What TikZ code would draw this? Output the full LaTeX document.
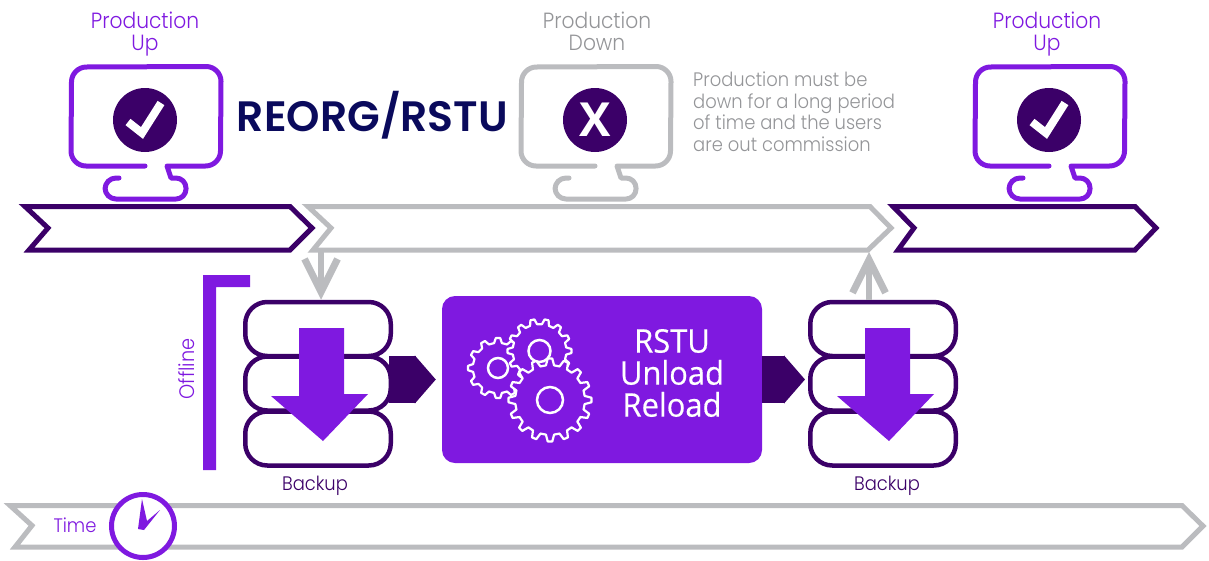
\documentclass[tikz,border=0pt]{standalone}
\usepackage{fontspec}
\setmainfont{Poppins}[UprightFont=* Light,BoldFont=* SemiBold,UprightFeatures={FakeStretch=0.92}]
\newfontfamily\boxfont{Open Sans}[FakeBold=0.5,FakeStretch=0.95]
\usetikzlibrary{arrows.meta}
\definecolor{purp}{HTML}{7F19E0}
\definecolor{darkpurp}{HTML}{3B0068}
\definecolor{navy}{HTML}{0A0A5C}
\definecolor{lgrey}{HTML}{BBBCBF}
\definecolor{tgrey}{HTML}{949598}
\tikzset{
  banner/.style={line width=5pt,miter limit=10,fill=white},
  dbdisk/.style={draw=darkpurp,line width=4.5pt,fill=white,rounded corners=22pt,minimum width=145.5pt,minimum height=54pt},
  flowarrow/.style={draw=darkpurp,line width=47pt,-{Triangle[length=21pt,width=47pt]}},
  greyarrow/.style={draw=lgrey,line width=6.5pt,-{Straight Barb[length=33pt,width=33pt,line width=7pt]}},
  prodlabel/.style={align=center,font=\fontsize{22}{21.5}\selectfont},
  smalllabel/.style={font=\fontsize{19.5}{21.5}\selectfont},
  geardraw/.style={draw=white,fill=purp,line width=2.2pt,line join=round}
}
% gear: centre x, centre y, radius, teeth, hole
\newcommand{\gearwheel}[5]{
  \pgfmathsetmacro{\gstep}{360/#4}
  \draw[geardraw] ({#1+0.84*#3*cos(-0.3*\gstep)},{#2+0.84*#3*sin(-0.3*\gstep)})
    \foreach \gi in {1,...,#4} {
      -- ({#1+#3*cos((\gi-1)*\gstep-0.14*\gstep)},{#2+#3*sin((\gi-1)*\gstep-0.14*\gstep)})
      -- ({#1+#3*cos((\gi-1)*\gstep+0.14*\gstep)},{#2+#3*sin((\gi-1)*\gstep+0.14*\gstep)})
      -- ({#1+0.84*#3*cos((\gi-1)*\gstep+0.3*\gstep)},{#2+0.84*#3*sin((\gi-1)*\gstep+0.3*\gstep)})
      -- ({#1+0.84*#3*cos(\gi*\gstep-0.3*\gstep)},{#2+0.84*#3*sin(\gi*\gstep-0.3*\gstep)})
    } -- cycle;
  \draw[white,line width=2.5pt] (#1,#2) circle (#5);
}
% monitor outline, x offset and colour
\newcommand{\monitor}[2]{
  \draw[#2,line width=5pt,line cap=round,line join=round,xshift=#1pt]
    (145,166) -- (86,166) arc (90:180:15) -- (71.5,82) arc (180:270:15) -- (206,66.5) arc (270:360:15)
    -- (220.5,151) arc (0:90:15) -- (167,166) -- (171,178) -- (176,178) arc (-90:0:10) -- (186,189) arc (0:90:10)
    -- (116,199) arc (90:180:11) -- (105,189) arc (180:270:11) -- (119,178);
}
\begin{document}
\begin{tikzpicture}[x=1pt,y=-1pt]
  \useasboundingbox (0,0) rectangle (1209,560);
  % time bar
  \draw[banner,draw=lgrey] (10,505.5) -- (1182,505.5) -- (1203,526) -- (1182,547) -- (15,547) -- (32,525.5) -- cycle;
  % production bars
  \draw[banner,draw=darkpurp] (25,206.5) -- (290,206.5) -- (312,228) -- (290,250) -- (29,250) -- (48,228) -- cycle;
  \draw[banner,draw=lgrey] (308,206.5) -- (870,206.5) -- (891,228) -- (868,250) -- (313,250) -- (331,228) -- cycle;
  \draw[banner,draw=darkpurp] (893,206.5) -- (1135,206.5) -- (1156,228) -- (1135,250) -- (898,250) -- (914,228) -- cycle;
  % monitors
  \monitor{0}{purp}
  \monitor{450}{lgrey}
  \monitor{904}{purp}
  \node[circle,fill=darkpurp,minimum size=64pt,inner sep=0pt] (iconleft) at (145,120) {};
  \node[circle,fill=darkpurp,minimum size=64pt,inner sep=0pt] (icondown) at (595,120) {\fontspec{Open Sans Bold}\fontsize{47}{47}\selectfont\color{white}X};
  \node[circle,fill=darkpurp,minimum size=64pt,inner sep=0pt] (iconright) at (1049,120) {};
  \draw[white,line width=8pt] (128,122) -- (142,133) -- (161,103);
  \draw[white,line width=8pt] (1032,122) -- (1046,133) -- (1065,103);
  % labels
  \node[prodlabel,text=purp] (upleft) at (145,34) {Production\\Up};
  \node[prodlabel,text=tgrey] (downmid) at (597,31.5) {Production\\Down};
  \node[prodlabel,text=purp] (upright) at (1047,34) {Production\\Up};
  \node[text=navy,font=\bfseries\fontsize{42.5}{43}\selectfont] (title) at (372.5,115) {REORG/RSTU};
  \node[text=tgrey,align=left,anchor=west,inner sep=0pt,font=\fontsize{19.5}{21.5}\selectfont] (downnote) at (693,112) {Production must be\\down for a long period\\of time and the users\\are out commission};
  % backup stacks
  \node[dbdisk] (dba1) at (318,329) {};
  \node[dbdisk] (dba3) at (318,438.5) {};
  \node[dbdisk] (dba2) at (318,383.5) {};
  \node[dbdisk] (dbb1) at (883,329) {};
  \node[dbdisk] (dbb3) at (883,438.5) {};
  \node[dbdisk] (dbb2) at (883,383.5) {};
  \foreach \dx in {0,566} {
    \fill[purp,xshift=\dx pt] (299,328) -- (344,328) -- (344,394) -- (368,394) -- (323,441) -- (271,396) -- (299,396) -- cycle;
  }
  \node[smalllabel,text=darkpurp] (backupa) at (315,485.5) {Backup};
  \node[smalllabel,text=darkpurp] (backupb) at (887,485.5) {Backup};
  % offline bracket
  \fill[purp] (203,275) -- (250,275) -- (250,287) -- (216,287) -- (216,470) -- (203,470) -- cycle;
  \node[text=purp,rotate=90,font=\fontsize{21}{21}\selectfont] (offline) at (187,369) {Offline};
  % unload box
  \node[fill=purp,rounded corners=13pt,minimum width=320pt,minimum height=167pt] (rstu) at (602,379.5) {};
  \gearwheel{498}{368}{30}{12}{10}
  \gearwheel{539.5}{351}{32}{14}{11}
  \gearwheel{550}{400}{41.5}{16}{13}
  \node[align=center,text=white,font=\boxfont\fontsize{32.5}{32}\selectfont] (rstutext) at (672,373) {RSTU\\Unload\\Reload};
  % connectors
  \draw[flowarrow,shorten <=-4pt,shorten >=6pt] (dba2.east |- rstu.west) -- (rstu.west);
  \draw[flowarrow,shorten >=3pt] (rstu.east) -- (dbb2.west |- rstu.east);
  \coordinate (downout) at (321,250);
  \coordinate (upin) at (869,252);
  \draw[greyarrow] (downout) -- (downout |- dba1.north);
  \draw[greyarrow] (upin |- dbb1.north) -- (upin);
  % clock
  \node[circle,draw=purp,fill=white,line width=5pt,minimum size=63pt,inner sep=0pt] (clock) at (143,526) {};
  \fill[purp] (142,499) -- (147,521) -- (160,510) -- (144,530) -- (138,529) -- cycle;
  \node[smalllabel,text=purp] (timelabel) at (75,525) {Time};
\end{tikzpicture}
\end{document}
